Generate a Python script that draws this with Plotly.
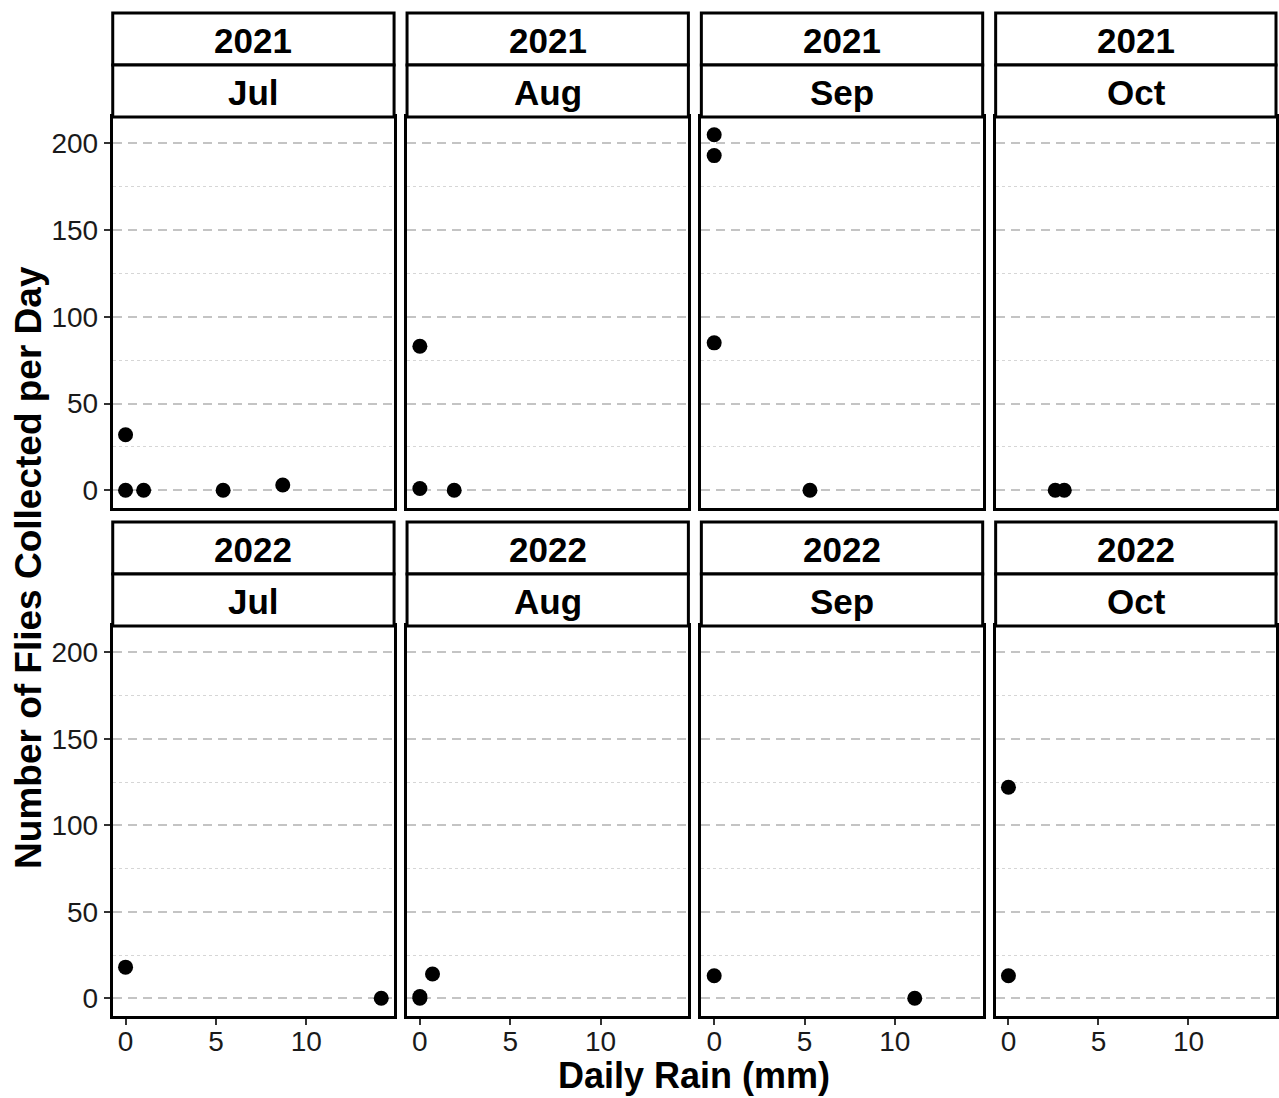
import plotly.graph_objects as go

W, H = 1279, 1098

years = ["2021", "2022"]
months = ["Jul", "Aug", "Sep", "Oct"]

rain_2021_jul = [0.0, 0.0, 1.0, 5.4, 8.7]
flies_2021_jul = [32, 0, 0, 0, 3]
rain_2021_aug = [0.0, 0.0, 1.9]
flies_2021_aug = [83, 1, 0]
rain_2021_sep = [0.0, 0.0, 0.0, 5.3]
flies_2021_sep = [205, 193, 85, 0]
rain_2021_oct = [2.6, 3.1]
flies_2021_oct = [0, 0]
rain_2022_jul = [0.0, 14.15]
flies_2022_jul = [18, 0]
rain_2022_aug = [0.0, 0.0, 0.7]
flies_2022_aug = [0, 1, 14]
rain_2022_sep = [0.0, 11.1]
flies_2022_sep = [13, 0]
rain_2022_oct = [0.0, 0.0]
flies_2022_oct = [122, 13]

panel_x = [[rain_2021_jul, rain_2021_aug, rain_2021_sep, rain_2021_oct],
           [rain_2022_jul, rain_2022_aug, rain_2022_sep, rain_2022_oct]]
panel_y = [[flies_2021_jul, flies_2021_aug, flies_2021_sep, flies_2021_oct],
           [flies_2022_jul, flies_2022_aug, flies_2022_sep, flies_2022_oct]]

y_ticks = [0, 50, 100, 150, 200]
x_ticks = [0, 5, 10]

# layout geometry (pixels)
col_left = [113, 408, 703, 998]
col_w = 282
row_top = [117, 626]
row_bot = [508, 1016]
strip_h = 52

xr = [-0.71, 14.86]
yr = [-10.25, 215.25]

FONT = "Liberation Sans, Arial, sans-serif"

fig = go.Figure()
layout = dict(
    width=W, height=H, margin=dict(l=0, r=0, t=0, b=0),
    paper_bgcolor="white", plot_bgcolor="white", showlegend=False,
    font=dict(family=FONT, color="#1a1a1a"),
)
shapes = []
annotations = []

k = 0
for r in range(2):
    for c in range(4):
        k += 1
        xa = "xaxis" if k == 1 else f"xaxis{k}"
        ya = "yaxis" if k == 1 else f"yaxis{k}"
        xref = "x" if k == 1 else f"x{k}"
        yref = "y" if k == 1 else f"y{k}"
        x0 = col_left[c] / W
        x1 = min((col_left[c] + col_w) / W, 1.0)
        y0 = 1 - row_bot[r] / H
        y1 = 1 - row_top[r] / H
        layout[xa] = dict(
            domain=[x0, x1], range=xr, anchor=yref,
            showgrid=False, zeroline=False,
            showline=True, mirror=True, linecolor="black", linewidth=3,
            tickvals=x_ticks, ticktext=[str(v) for v in x_ticks],
            showticklabels=(r == 1), ticks="outside" if r == 1 else "",
            ticklen=6, tickwidth=1.5, tickcolor="#333333",
            ticklabelstandoff=-8,
            tickfont=dict(size=28, family=FONT, color="#1a1a1a"),
        )
        layout[ya] = dict(
            domain=[y0, y1], range=yr, anchor=xref,
            zeroline=False,
            showline=True, mirror=True, linecolor="black", linewidth=3,
            tickvals=y_ticks, ticktext=[str(v) for v in y_ticks],
            showgrid=True, gridcolor="#c4c4c4", gridwidth=1.5, griddash="9px,6px",
            minor=dict(tickvals=[25, 75, 125, 175], showgrid=True,
                       gridcolor="#d6d6d6", gridwidth=1, griddash="3px,3px"),
            showticklabels=(c == 0), ticks="outside" if c == 0 else "",
            ticklen=6, tickwidth=1.5, tickcolor="#333333",
            tickfont=dict(size=28, family=FONT, color="#1a1a1a"),
        )
        fig.add_trace(go.Scatter(
            x=panel_x[r][c], y=panel_y[r][c], mode="markers",
            marker=dict(color="black", size=15),
            xaxis=xref, yaxis=yref, hoverinfo="skip",
        ))
        # strips
        top = row_top[r] - 2 * strip_h
        for s, label in enumerate([years[r], months[c]]):
            sy_top = top + s * strip_h
            sy_bot = sy_top + strip_h
            shapes.append(dict(
                type="rect", xref="paper", yref="paper",
                x0=x0, x1=x1, y0=1 - sy_bot / H, y1=1 - sy_top / H,
                line=dict(color="black", width=3), fillcolor="white", layer="above",
            ))
            annotations.append(dict(
                text=f"<b>{label}</b>", xref="paper", yref="paper",
                x=(col_left[c] + col_w / 2) / W, y=1 - (sy_top + strip_h / 2 + 1) / H,
                xanchor="center", yanchor="middle", showarrow=False,
                font=dict(size=35, family=FONT, color="black"),
            ))

annotations.append(dict(
    text="<b>Daily Rain (mm)</b>", xref="paper", yref="paper",
    x=696 / W, y=1 - 1075 / H, xanchor="center", yanchor="middle",
    showarrow=False, font=dict(size=36, family=FONT, color="black"),
))
annotations.append(dict(
    text="<b>Number of Flies Collected per Day</b>", xref="paper", yref="paper",
    x=28 / W, y=1 - 567 / H, xanchor="center", yanchor="middle", textangle=-90,
    showarrow=False, font=dict(size=37, family=FONT, color="black"),
))

layout["shapes"] = shapes
layout["annotations"] = annotations
fig.update_layout(**layout)
fig.write_html("out.html")
